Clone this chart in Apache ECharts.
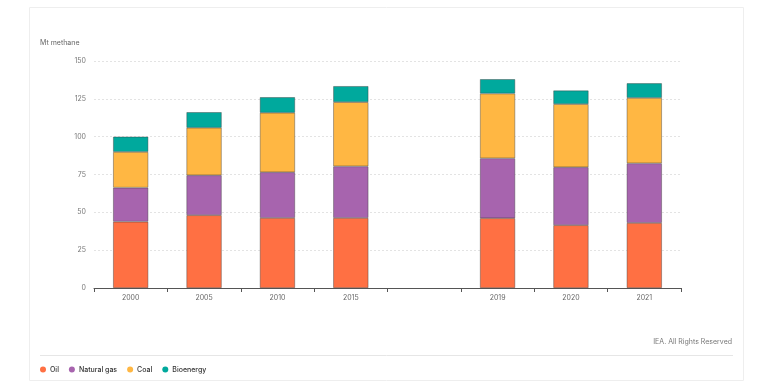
<!DOCTYPE html>
<html>
<head>
<meta charset="utf-8">
<script src="https://cdn.jsdelivr.net/npm/echarts@6/dist/echarts.min.js"></script>
<style>
html,body{margin:0;padding:0;background:#fff;}
#c{width:768px;height:388px;}
</style>
</head>
<body>
<div id="c"></div>
<script>
var categories = ['2000','2005','2010','2015','','2019','2020','2021'];
var oil = [43.8, 48.1, 46.3, 46.3, '-', 46.1, 41.5, 43.0];
var naturalGas = [22.5, 26.4, 30.2, 34.1, '-', 39.6, 38.3, 39.4];
var coal = [23.6, 31.4, 39.3, 42.4, '-', 42.8, 41.7, 43.2];
var bioenergy = [10.1, 10.3, 10.3, 10.6, '-', 9.5, 9.0, 9.7];
var yTicks = [0, 25, 50, 75, 100, 125, 150];

var font = 'Inter, "Open Sans", sans-serif';
var chart = echarts.init(document.getElementById('c'), null, {renderer:'canvas'});
function s(name, data, color){
  return {name:name, type:'bar', stack:'total', data:data, barWidth:'48%',
    itemStyle:{color:color, borderColor:'rgba(60,60,60,0.6)', borderWidth:0.7},
    emphasis:{disabled:true}};
}
chart.setOption({
  animation:false,
  textStyle:{fontFamily:font},
  graphic:[
    {type:'rect', shape:{x:29.5,y:7.5,width:714,height:373}, style:{fill:'none', stroke:'#eeeeee', lineWidth:1}, z:-10},
    {type:'line', shape:{x1:40,y1:355.5,x2:733,y2:355.5}, style:{stroke:'#e6e6e6', lineWidth:1}},
    {type:'text', right:36, top:338, style:{text:'IEA. All Rights Reserved', fill:'#777', font:'7px '+font}},
    {type:'text', left:40, top:39, style:{text:'Mt methane', fill:'#666', font:'7px '+font}}
  ],
  legend:{left:35, top:361, icon:'circle', itemWidth:6, itemHeight:6, itemGap:10,
    itemStyle:{borderWidth:0},
    textStyle:{fontSize:7, color:'#333', fontWeight:500, fontFamily:font, padding:[0,0,0,-1]},
    data:['Oil','Natural gas','Coal','Bioenergy']},
  grid:{left:94, right:87, top:61, bottom:100},
  xAxis:{type:'category', data:categories,
    axisLine:{lineStyle:{color:'#555', width:1}},
    axisTick:{show:true, length:4, lineStyle:{color:'#555'}},
    axisLabel:{fontSize:7, color:'#666', margin:6}},
  yAxis:{type:'value', min:0, max:150, interval:25,
    axisLine:{show:false}, axisTick:{show:false},
    axisLabel:{fontSize:7, color:'#777', margin:8, formatter:function(v){return yTicks.indexOf(v)>=0?String(v):'';}},
    splitLine:{lineStyle:{color:'#e3e3e3', type:[2,2], width:1}}},
  series:[
    s('Oil', oil, '#ff7043'),
    s('Natural gas', naturalGas, '#a764ae'),
    s('Coal', coal, '#ffb743'),
    s('Bioenergy', bioenergy, '#00a99d')
  ]
});
</script>
</body>
</html>
